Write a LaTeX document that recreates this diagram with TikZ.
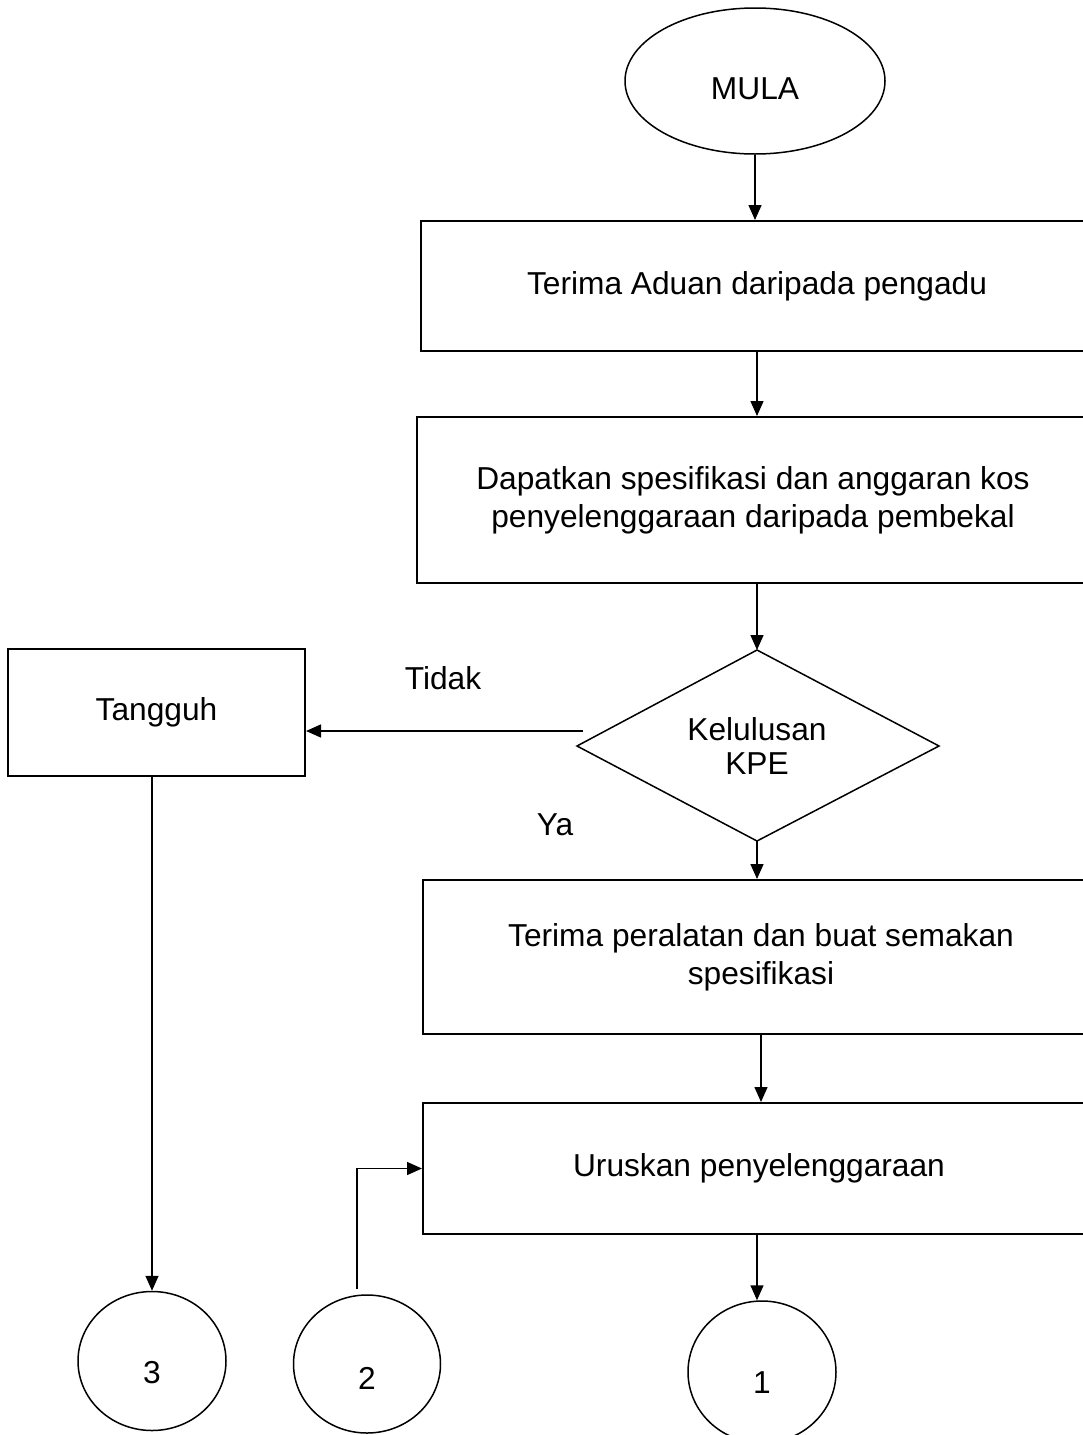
\documentclass[tikz,border=0pt]{standalone}
\usepackage{fontspec}
\setmainfont{Liberation Sans}
\usetikzlibrary{arrows.meta,shapes.geometric}
\newcommand\lowertext[2]{\raisebox{-#1}[\height][\depth]{#2}}
\begin{document}
\begin{tikzpicture}[x=1pt,y=-1pt,
  every node/.style={font=\fontsize{31.7}{38}\selectfont},
  procbox/.style={draw, line width=2pt, rectangle, inner sep=0pt, align=center},
  termshape/.style={draw, ellipse, line width=1.5pt, inner sep=0pt},
  conn/.style={line width=1.5pt, -{Triangle[length=15pt,width=13pt]}},
  outline/.style={line width=1.5pt}]
\useasboundingbox (0,0) rectangle (1083,1435);
\clip (0,0) rectangle (1083,1435);

% start
\node[termshape, minimum width=260pt, minimum height=146pt] (mula) at (755,81) {\lowertext{8pt}{MULA}};

% process boxes
\node[procbox, minimum width=672pt, minimum height=130pt] (b1) at (757,286) {Terima Aduan daripada pengadu};
\node[procbox, minimum width=672pt, minimum height=166pt] (b2) at (753,500) {Dapatkan spesifikasi dan anggaran kos\\penyelenggaraan daripada pembekal};
\node[procbox, minimum width=676pt, minimum height=154pt] (b3) at (761,957) {Terima peralatan dan buat semakan\\spesifikasi};
\node[procbox, minimum width=672pt, minimum height=131pt] (b4) at (759,1168.5) {Uruskan penyelenggaraan};
\node[procbox, minimum width=297pt, minimum height=127pt] (tangguh) at (156.5,712.5) {Tangguh};

% decision
\coordinate (dtop) at (757,650);
\coordinate (dright) at (939,746);
\coordinate (dbot) at (757,841);
\coordinate (dleft) at (577,746);
\draw[outline] (dtop) -- (dright) -- (dbot) -- (dleft) -- cycle;
\node[align=center, font=\fontsize{31.7}{34}\selectfont] (kpe) at (757,746) {Kelulusan\\KPE};

% labels
\node (tidak) at (443,678) {Tidak};
\node (ya) at (555,825) {Ya};

% connectors (off-page)
\node[termshape, minimum width=148pt, minimum height=139pt] (c3) at (152,1361) {\lowertext{12pt}{3}};
\node[termshape, minimum width=147pt, minimum height=138pt] (c2) at (367,1364) {\lowertext{14pt}{2}};
\node[termshape, minimum width=148pt, minimum height=142pt] (c1) at (762,1372) {\lowertext{11pt}{1}};

% arrows
\draw[conn] (mula.south) -- (mula.south |- b1.north);
\draw[conn] (b1.south) -- (b1.south |- b2.north);
\draw[conn] (dtop |- b2.south) -- (dtop);
\coordinate (tstart) at (583,731);
\draw[conn] (tstart) -- (tstart -| tangguh.east);
\draw[conn] (dbot) -- (dbot |- b3.north);
\draw[conn] (b3.south) -- (b3.south |- b4.north);
\coordinate (a1) at (757,1234);
\draw[conn] (a1) -- (a1 |- c1.north);
\draw[conn] (c3.north |- tangguh.south) -- (c3.north);
\coordinate (c2top) at (357,1289);
\draw[conn] (c2top) |- (b4.west);
\end{tikzpicture}
\end{document}
